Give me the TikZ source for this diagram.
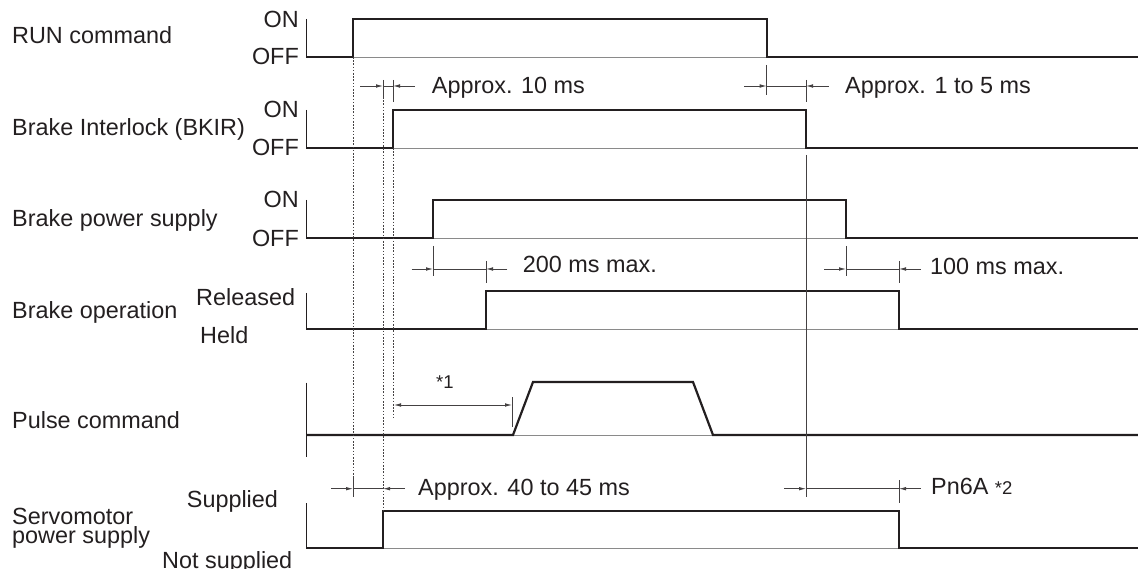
\documentclass[tikz,border=0pt]{standalone}
\usepackage{fontspec}
\setmainfont{Liberation Sans}
\usetikzlibrary{arrows.meta}
\definecolor{ink}{HTML}{231F20}
\definecolor{basegray}{HTML}{8A8A8A}
\begin{document}
\begin{tikzpicture}[x=1pt,y=-1pt,
  sig/.style={ink,line width=2.2pt,line join=miter},
  baseln/.style={basegray,line width=0.9pt},
  axisln/.style={ink,line width=1pt},
  dim/.style={ink!85,line width=0.8pt},
  dimarr/.style={dim,-{Latex[length=7pt,width=3.6pt]}},
  tickln/.style={ink!85,line width=0.8pt},
  dotln/.style={ink!85,line width=0.8pt,dash pattern=on 1.6pt off 1.6pt},
  lbl/.style={inner sep=0pt,text=ink,font=\fontsize{23.4}{28}\selectfont},
  smalllbl/.style={inner sep=0pt,text=ink,font=\fontsize{18.5}{22}\selectfont}]
\useasboundingbox (0,0) rectangle (1138,569);

% ---------- left labels ----------
\node[lbl,anchor=base west] (l1) at (12,44) {RUN command};
\node[lbl,anchor=base west] (l2) at (12,136) {Brake Interlock (BKIR)};
\node[lbl,anchor=base west] (l3) at (12,226.5) {Brake power supply};
\node[lbl,anchor=base west] (l4) at (12,318.3) {Brake operation};
\node[lbl,anchor=base west] (l5) at (12,428.3) {Pulse command};
\node[lbl,anchor=base west,align=left,font=\fontsize{23.4}{18.7}\selectfont] (l6) at (12,543.2) {Servomotor\\power supply};

% ---------- level labels ----------
\node[lbl,anchor=base east] (on1) at (299,27.3) {ON};
\node[lbl,anchor=base east] (off1) at (299,65) {OFF};
\node[lbl,anchor=base east] (on2) at (299,117.5) {ON};
\node[lbl,anchor=base east] (off2) at (299,156) {OFF};
\node[lbl,anchor=base east] (on3) at (299,208) {ON};
\node[lbl,anchor=base east] (off3) at (299,246.5) {OFF};
\node[lbl,anchor=base west] (rel) at (196,306) {Released};
\node[lbl,anchor=base west] (held) at (200,344) {Held};
\node[lbl,anchor=base west] (sup) at (186.7,507.3) {Supplied};
\node[lbl,anchor=base west] (nsup) at (162,568) {Not supplied};

% ---------- axes ----------
\draw[axisln] (306,19) -- (306,57);
\draw[axisln] (306,110) -- (306,148);
\draw[axisln] (306,200) -- (306,238);
\draw[axisln] (306,293) -- (306,329);
\draw[axisln] (306,382.7) -- (306,456.7);
\draw[axisln] (306,503) -- (306,548);

% ---------- thin baselines ----------
\draw[baseln] (306,57) -- (1138,57);
\draw[baseln] (306,148) -- (1138,148);
\draw[baseln] (306,238) -- (1138,238);
\draw[baseln] (306,329) -- (1138,329);
\draw[baseln] (306,435) -- (1138,435);
\draw[baseln] (306,548) -- (1138,548);

% ---------- signals ----------
\draw[sig] (306,57) -- (353,57) -- (353,19) -- (766.7,19) -- (766.7,57) -- (1138,57);
\draw[sig] (306,148) -- (393,148) -- (393,110) -- (806,110) -- (806,148) -- (1138,148);
\draw[sig] (306,238) -- (433,238) -- (433,200) -- (846,200) -- (846,238) -- (1138,238);
\draw[sig] (306,329) -- (486,329) -- (486,290.7) -- (899,290.7) -- (899,329) -- (1138,329);
\draw[sig] (306,435) -- (513,435) -- (533,382) -- (693,382) -- (713,435) -- (1138,435);
\draw[sig] (306,548) -- (383,548) -- (383,510.7) -- (899,510.7) -- (899,548) -- (1138,548);

% ---------- dotted guide lines ----------
\draw[dotln] (353,57) -- (353,477);
\draw[dotln] (383,97) -- (383,510.7);
\draw[dotln] (393,148) -- (393,417);

% ---------- solid guide line ----------
\draw[tickln] (806,155) -- (806,497);

% ---------- Approx. 10 ms ----------
\draw[tickln] (383,80) -- (383,97);
\draw[tickln] (393,80) -- (393,101.7);
\draw[dimarr] (360,86) -- (383,86);
\draw[dim] (383,86) -- (393,86);
\draw[dimarr] (415,86) -- (393,86);
\node[lbl,anchor=base west] (t10) at (431.7,94) {Approx. 10 ms};

% ---------- Approx. 1 to 5 ms ----------
\draw[tickln] (766.7,65) -- (766.7,95);
\draw[tickln] (806,80) -- (806,101.7);
\draw[dimarr] (744.3,86) -- (766.7,86);
\draw[dim] (766.7,86) -- (806,86);
\draw[dimarr] (828.7,86) -- (806,86);
\node[lbl,anchor=base west] (t15) at (845,94) {Approx. 1 to 5 ms};

% ---------- 200 ms max. ----------
\draw[tickln] (433,246) -- (433,276);
\draw[tickln] (486,261) -- (486,283);
\draw[dimarr] (411.7,269) -- (433,269);
\draw[dim] (433,269) -- (486,269);
\draw[dimarr] (507.3,269) -- (486,269);
\node[lbl,anchor=base west] (t200) at (522.7,272.7) {200 ms max.};

% ---------- 100 ms max. ----------
\draw[tickln] (846,246) -- (846,276);
\draw[tickln] (899,261) -- (899,283);
\draw[dimarr] (824.3,269) -- (846,269);
\draw[dim] (846,269) -- (899,269);
\draw[dimarr] (920.7,269) -- (899,269);
\node[lbl,anchor=base west] (t100) at (930,275) {100 ms max.};

% ---------- *1 ----------
\draw[tickln] (512,397) -- (512,427);
\draw[dim,{Latex[length=7pt,width=3.6pt]}-{Latex[length=7pt,width=3.6pt]}] (394,405) -- (512,405);
\node[smalllbl,anchor=base west] (s1) at (436,388) {*1};

% ---------- Approx. 40 to 45 ms ----------
\draw[tickln] (353,477) -- (353,497);
\draw[dimarr] (331,488.7) -- (353,488.7);
\draw[dim] (353,488.7) -- (383,488.7);
\draw[dimarr] (405,488.7) -- (383,488.7);
\node[lbl,anchor=base west] (t4045) at (418,495.7) {Approx. 40 to 45 ms};

% ---------- Pn6A *2 ----------
\draw[tickln] (899,480) -- (899,503);
\draw[dimarr] (784.3,488.7) -- (806,488.7);
\draw[dim] (806,488.7) -- (899,488.7);
\draw[dimarr] (920.7,488.7) -- (899,488.7);
\node[lbl,anchor=base west] (tpn) at (931,494.3) {Pn6A {\fontsize{18.5}{22}\selectfont *2}};
\end{tikzpicture}
\end{document}
